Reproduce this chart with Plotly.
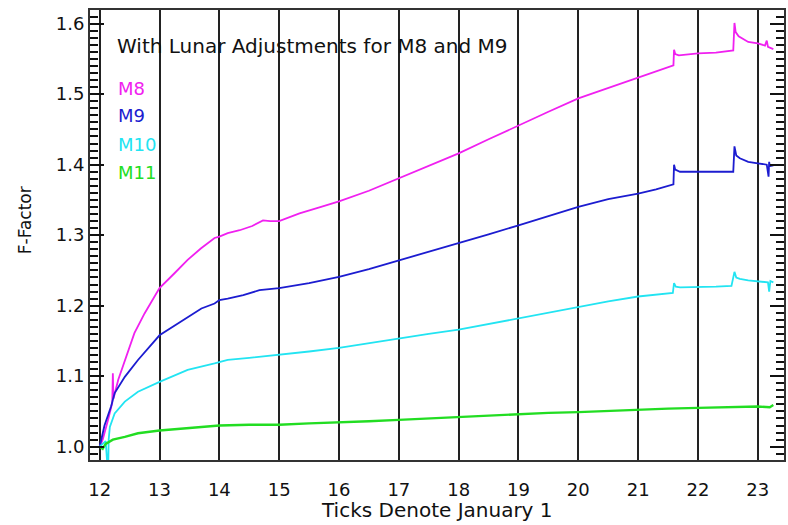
import plotly.graph_objects as go

# ---- data ----
m8_x = [12.0, 12.05, 12.14, 12.21, 12.22, 12.23, 12.31, 12.42, 12.58, 12.75, 13.0, 13.25, 13.47, 13.69, 13.92,
        14.0, 14.14, 14.34, 14.55, 14.73, 14.85, 15.0, 15.34, 15.7, 16.0, 16.5, 17.0, 17.5, 18.0, 18.5, 19.0,
        19.5, 20.0, 20.5, 21.0, 21.3, 21.59, 21.6, 21.62, 21.68, 22.0, 22.3, 22.59, 22.61, 22.63, 22.68, 22.84,
        23.0, 23.12, 23.15, 23.17, 23.26]
m8_y = [1.0, 1.01, 1.038, 1.062, 1.104, 1.068, 1.095, 1.123, 1.161, 1.189, 1.225, 1.246, 1.265, 1.281, 1.296,
        1.298, 1.303, 1.307, 1.313, 1.321, 1.320, 1.320, 1.331, 1.340, 1.348, 1.363, 1.381, 1.398, 1.416, 1.436, 1.456,
        1.475, 1.494, 1.509, 1.524, 1.532, 1.541, 1.563, 1.557, 1.555, 1.558, 1.559, 1.562, 1.601, 1.588, 1.582, 1.574,
        1.572, 1.569, 1.576, 1.567, 1.564]

m9_x = [12.0, 12.08, 12.19, 12.25, 12.42, 12.64, 13.0, 13.25, 13.47, 13.7, 13.92, 14.0, 14.14, 14.4, 14.67, 15.0,
        15.5, 16.0, 16.5, 17.0, 17.5, 18.0, 18.5, 19.0, 19.5, 20.0, 20.5, 21.0, 21.3, 21.59, 21.6, 21.62, 21.7,
        22.0, 22.3, 22.59, 22.61, 22.64, 22.7, 22.84, 23.0, 23.15, 23.18, 23.19, 23.2, 23.26]
m9_y = [1.0, 1.03, 1.057, 1.076, 1.099, 1.123, 1.158, 1.172, 1.184, 1.196, 1.203, 1.208, 1.210, 1.215, 1.222, 1.225,
        1.232, 1.241, 1.252, 1.264, 1.276, 1.289, 1.301, 1.314, 1.327, 1.340, 1.351, 1.359, 1.365, 1.372, 1.400, 1.393, 1.390,
        1.390, 1.389, 1.390, 1.426, 1.413, 1.409, 1.404, 1.402, 1.400, 1.383, 1.404, 1.398, 1.399]

m10_x = [12.0, 12.1, 12.14, 12.15, 12.17, 12.25, 12.42, 12.64, 13.0, 13.25, 13.47, 13.92, 14.14, 14.5, 15.0, 15.5,
         16.0, 16.5, 17.0, 17.5, 18.0, 18.5, 19.0, 19.5, 20.0, 20.5, 21.0, 21.3, 21.58, 21.6, 21.63, 21.7, 22.0,
         22.3, 22.56, 22.61, 22.64, 22.7, 22.84, 23.05, 23.17, 23.19, 23.21, 23.26]
m10_y = [1.0, 1.008, 0.96, 1.01, 1.028, 1.047, 1.064, 1.078, 1.092, 1.101, 1.109, 1.118, 1.123, 1.126, 1.130, 1.135,
         1.140, 1.147, 1.154, 1.160, 1.166, 1.174, 1.183, 1.191, 1.199, 1.206, 1.213, 1.216, 1.218, 1.232, 1.227, 1.226, 1.226,
         1.227, 1.228, 1.248, 1.240, 1.238, 1.236, 1.234, 1.233, 1.220, 1.235, 1.233]

m11_x = [12.0, 12.05, 12.1, 12.22, 12.42, 12.64, 13.0, 13.47, 14.0, 14.5, 15.0, 15.5, 16.0, 16.5, 17.0, 17.5, 18.0,
         18.5, 19.0, 19.5, 20.0, 20.5, 21.0, 21.5, 22.0, 22.5, 23.0, 23.2, 23.26]
m11_y = [1.0, 0.997, 1.004, 1.010, 1.014, 1.019, 1.023, 1.026, 1.030, 1.031, 1.031, 1.033, 1.034, 1.036, 1.038, 1.040,
         1.042, 1.045, 1.047, 1.048, 1.049, 1.051, 1.052, 1.054, 1.055, 1.056, 1.057, 1.056, 1.059]

series_names = ["M8", "M9", "M10", "M11"]
series_colors = ["#f020f0", "#1c1cd0", "#22e4f2", "#22dd22"]
series_widths = [1.8, 1.8, 1.8, 2.4]

x_ticks = list(range(12, 24))

FONT = "DejaVu Sans"
INK = "#111111"
Y_RANGE = [0.9811, 1.6194]

fig = go.Figure()
for xs, ys, name, col, w in zip([m8_x, m9_x, m10_x, m11_x], [m8_y, m9_y, m10_y, m11_y],
                                series_names, series_colors, series_widths):
    fig.add_trace(go.Scatter(x=xs, y=ys, mode="lines", name=name,
                             line=dict(color=col, width=w), showlegend=False))

fig.update_layout(
    width=788, height=525,
    margin=dict(l=90, r=2, t=10, b=65),
    plot_bgcolor="white", paper_bgcolor="white",
    font=dict(family=FONT, size=17, color=INK),
    # invisible outside x ticks only push the x labels down to where the reference has them
    xaxis=dict(range=[11.838, 23.438], tickvals=x_ticks, ticktext=[str(v) for v in x_ticks],
               showgrid=True, gridcolor="#222222", gridwidth=1.6,
               showline=True, linecolor="#333333", linewidth=2, mirror=True,
               ticks="outside", ticklen=12, tickcolor="rgba(0,0,0,0)", zeroline=False,
               tickfont=dict(family=FONT, size=18, color=INK)),
    yaxis=dict(range=Y_RANGE, dtick=0.1, tickformat=".1f",
               showgrid=False, zeroline=False,
               showline=True, linecolor="#333333", linewidth=2, mirror="allticks",
               ticks="inside", ticklen=14, tickwidth=2, tickcolor="#111111",
               minor=dict(ticks="inside", dtick=0.01, ticklen=8, tickwidth=1.8, tickcolor="#111111"),
               tickfont=dict(family=FONT, size=18, color=INK)),
)

anns = [
    dict(text="With Lunar Adjustments for M8 and M9", x=115, y=46, color=INK, size=20),
]
legend_y = [88, 116, 144, 172]
for name, col, yy in zip(series_names, series_colors, legend_y):
    anns.append(dict(text=name, x=116, y=yy, color=col, size=18))

for a in anns:
    fig.add_annotation(text=a["text"], xref="paper", yref="paper",
                       x=(a["x"] - 90) / 696, y=(460 - a["y"]) / 450,
                       xanchor="left", yanchor="middle", showarrow=False,
                       font=dict(family=FONT, size=a["size"], color=a["color"]))

fig.add_annotation(text="Ticks Denote January 1", xref="paper", yref="paper",
                   x=(438 - 90) / 696, y=(460 - 510) / 450, xanchor="center", yanchor="middle",
                   showarrow=False, font=dict(family=FONT, size=20, color=INK))
fig.add_annotation(text="F-Factor", xref="paper", yref="paper",
                   x=(25 - 90) / 696, y=(460 - 220) / 450, xanchor="center", yanchor="middle",
                   textangle=-90, showarrow=False, font=dict(family=FONT, size=17, color=INK))

fig.write_html("out.html")
